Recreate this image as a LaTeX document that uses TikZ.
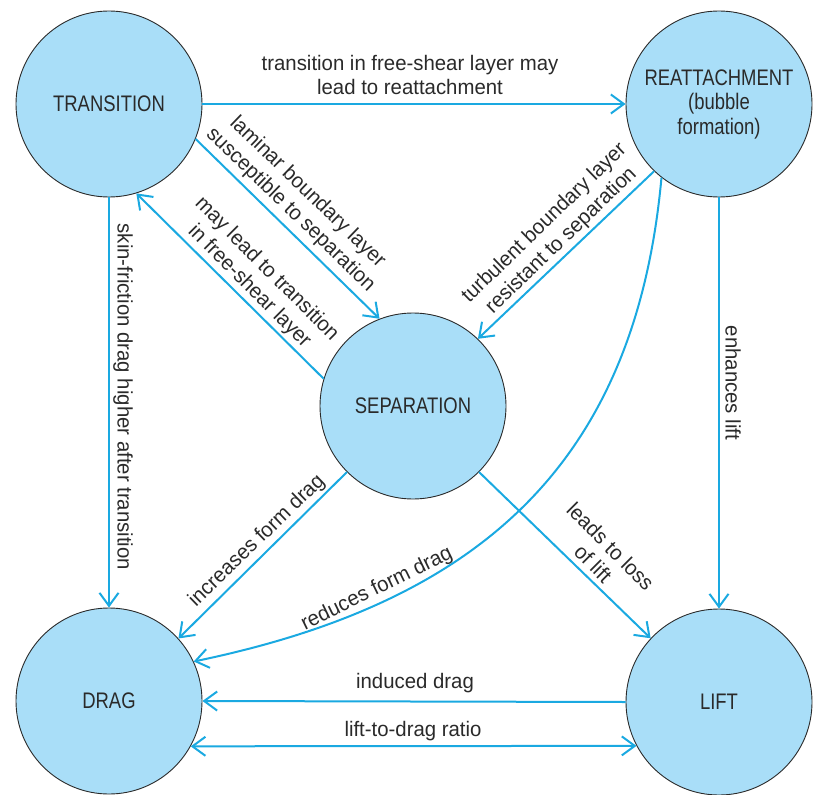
\documentclass[tikz,border=0pt]{standalone}
\usepackage{fontspec}
\setmainfont[FakeStretch=0.97]{Liberation Sans}
\newfontfamily\capsfont[FakeStretch=0.82]{Liberation Sans}
\usetikzlibrary{arrows.meta}
\definecolor{edgeblue}{HTML}{1AA9E1}
\definecolor{fillblue}{HTML}{A9DEF8}
\definecolor{ink}{HTML}{2A2A2A}
\tikzset{
  state/.style={circle, draw=ink, line width=0.9pt, fill=fillblue, minimum size=186pt, inner sep=0pt, text=ink, font=\capsfont\fontsize{22.5}{24.5}\selectfont, align=center},
  tipbarb/.tip={Straight Barb[length=13pt,width=19pt,line width=2pt]},
  conn/.style={draw=edgeblue, line width=2pt, -tipbarb},
  lbl/.style={text=ink, font=\fontsize{21}{24.5}\selectfont, align=center, inner sep=0pt},
}
\begin{document}
\begin{tikzpicture}[x=1pt,y=-1pt]
\useasboundingbox (0,0) rectangle (818,794);
\node[state] (T) at (109,104) {TRANSITION};
\node[state] (R) at (719,104) {REATTACHMENT\\(bubble\\formation)};
\node[state] (S) at (413,406) {SEPARATION};
\node[state] (D) at (109,701) {DRAG};
\node[state] (L) at (719,702) {LIFT};

\draw[conn] (T.east) -- (R.west);
\draw[conn] (T.-22.5) -- (S.111);
\draw[conn] (S.163) -- (T.-73.5);
\draw[conn] (R.226) -- (S.46);
\draw[conn] (T.south) -- (D.north);
\draw[conn] (R.south) -- (L.north);
\draw[conn] (S.225) -- (D.42);
\draw[conn] (S.-45.5) -- (L.137);
\draw[conn] (R.232) .. controls (635,467) and (476,603) .. (D.25);
\draw[conn] (L.west) -- (D.east);
\draw[conn, tipbarb-tipbarb] (D.-29.4) -- (L.208.8);

\node[lbl] (l1) at (410,75) {transition in free-shear layer may\\lead to reattachment};
\node[lbl, rotate=-44] (l2) at (299,201) {laminar boundary layer\\susceptible to separation};
\node[lbl, rotate=-45] (l3) at (258,278) {may lead to transition\\in free-shear layer};
\node[lbl, rotate=44] (l4) at (553,232) {turbulent boundary layer\\resistant to separation};
\node[lbl, rotate=-90] (l5) at (123,397) {skin-friction drag higher after transition};
\node[lbl, rotate=-90] (l6) at (733,383) {enhances lift};
\node[lbl, rotate=44] (l7) at (257,541) {increases form drag};
\node[lbl, rotate=-45] (l8) at (602,555) {leads to loss\\of lift};
\node[lbl, rotate=26] (l9) at (377,589) {reduces form drag};
\node[lbl] (l10) at (415,683) {induced drag};
\node[lbl] (l11) at (413,731) {lift-to-drag ratio};
\end{tikzpicture}
\end{document}
